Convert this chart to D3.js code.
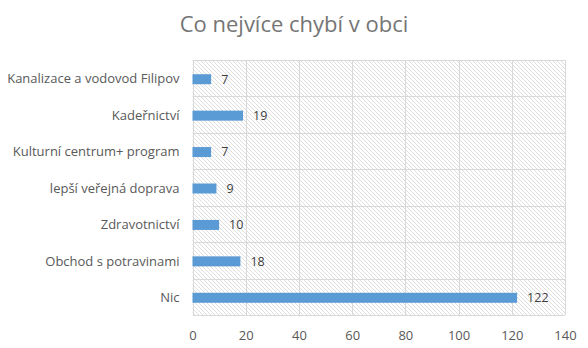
<!DOCTYPE html>
<html>
<head>
<meta charset="utf-8">
<script src="https://cdn.jsdelivr.net/npm/d3@7"></script>
<style>
  html, body { margin: 0; padding: 0; background: #fff; }
  svg { display: block; font-family: "Open Sans", "Noto Sans", sans-serif; }
</style>
</head>
<body>
<svg id="chart" width="588" height="348"></svg>
<script>
// Answers to the survey question, top to bottom
const categories = [
  "Kanalizace a vodovod Filipov",
  "Kadeřnictví",
  "Kulturní centrum+ program",
  "lepší veřejná doprava",
  "Zdravotnictví",
  "Obchod s potravinami",
  "Nic"
];
const counts = [7, 19, 7, 9, 10, 18, 122];
const xTicks = [0, 20, 40, 60, 80, 100, 120, 140];
const title = "Co nejvíce chybí v obci";

const svg = d3.select("#chart");
const margin = { left: 192.5, right: 23, top: 60, bottom: 33 };
const W = 588, H = 348;

const x = d3.scaleLinear().domain([0, 140]).range([margin.left, W - margin.right]);
const y = d3.scaleBand().domain(categories).range([margin.top, H - margin.bottom]).paddingInner(0).paddingOuter(0);

// diagonal hatch fill for the plot area
const defs = svg.append("defs");
const pat = defs.append("pattern")
  .attr("id", "hatch")
  .attr("patternUnits", "userSpaceOnUse")
  .attr("width", 4).attr("height", 4);
pat.append("path")
  .attr("d", "M-1,-1 L5,5 M-1,3 L1,5 M3,-1 L5,1")
  .attr("stroke", "#d6d6d6")
  .attr("stroke-width", 0.8)
  .attr("shape-rendering", "crispEdges");

svg.append("rect")
  .attr("x", x(0)).attr("y", margin.top)
  .attr("width", x(140) - x(0)).attr("height", H - margin.bottom - margin.top)
  .attr("fill", "url(#hatch)");

// gridlines
const grid = svg.append("g").attr("stroke", "#d9d9d9").attr("stroke-width", 1).attr("shape-rendering", "crispEdges");
grid.selectAll("line.v").data(xTicks).join("line")
  .attr("class", "v")
  .attr("x1", d => Math.round(x(d)) + 0.5).attr("x2", d => Math.round(x(d)) + 0.5)
  .attr("y1", margin.top).attr("y2", H - margin.bottom);
const hb = categories.map(c => y(c)).concat([y.range()[1]]);
grid.selectAll("line.h").data(hb).join("line")
  .attr("class", "h")
  .attr("x1", x(0)).attr("x2", x(140))
  .attr("y1", d => Math.round(d) + 0.5).attr("y2", d => Math.round(d) + 0.5);

// bars
const barH = 10;
svg.append("g").selectAll("rect").data(categories).join("rect")
  .attr("x", x(0))
  .attr("y", d => y(d) + y.bandwidth() / 2 - barH / 2 + 1)
  .attr("width", (d, i) => x(counts[i]) - x(0))
  .attr("height", barH)
  .attr("fill", "#5b9bd5");

// value labels
svg.append("g").selectAll("text").data(categories).join("text")
  .attr("x", (d, i) => x(counts[i]) + 10)
  .attr("y", d => y(d) + y.bandwidth() / 2 + 1)
  .attr("dy", "0.35em")
  .attr("font-size", 12.5)
  .attr("fill", "#404040")
  .text((d, i) => counts[i]);

// category axis
const yAxis = d3.axisLeft(y).tickSize(0).tickPadding(13);
const gy = svg.append("g").attr("transform", `translate(${x(0)},0)`).call(yAxis)
  .attr("font-family", null).attr("font-size", null);
gy.select(".domain").remove();
gy.selectAll("text").attr("font-size", 13).attr("fill", "#595959")
  .attr("dy", "0.4em");

// value axis
const xAxis = d3.axisBottom(x).tickValues(xTicks).tickSize(0).tickPadding(16);
const gx = svg.append("g").attr("transform", `translate(0,${H - margin.bottom})`).call(xAxis)
  .attr("font-family", null).attr("font-size", null);
gx.select(".domain").remove();
gx.selectAll("text").attr("font-size", 13).attr("fill", "#595959");

// title
svg.append("text")
  .attr("x", 294).attr("y", 32)
  .attr("text-anchor", "middle")
  .attr("font-size", 22)
  .attr("fill", "#757575")
  .text(title);
</script>
</body>
</html>
